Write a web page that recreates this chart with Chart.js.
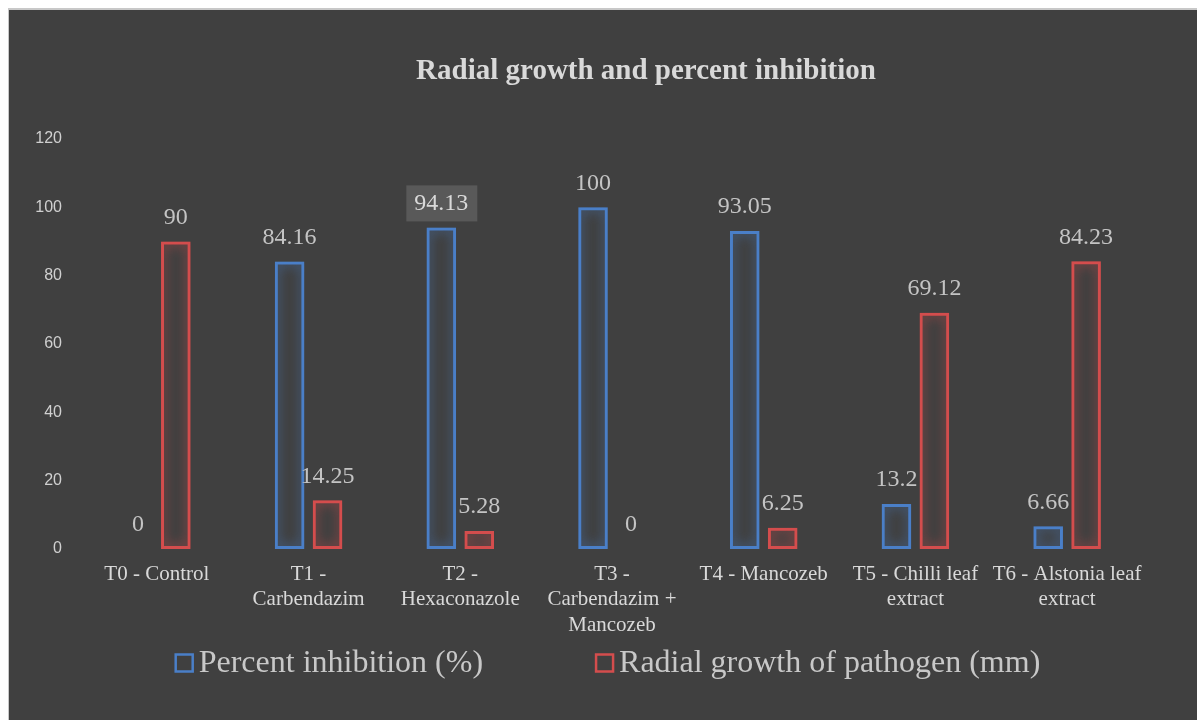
<!DOCTYPE html>
<html>
<head>
<meta charset="utf-8">
<script src="https://cdn.jsdelivr.net/npm/chart.js@4"></script>
<style>
  body { margin: 0; background: #fff; }
  #panel { position: absolute; left: 8px; top: 8px; width: 1189px; height: 712px; background: #404040; border-left: 1px solid #c8c8c8; border-top: 2px solid #c8c8c8; }
  #myChart { position: absolute; left: 0; top: 0; }
</style>
</head>
<body>
<div id="panel"></div>
<canvas id="myChart" width="1197" height="720"></canvas>
<script>
const xValues = [
  "T0 - Control",
  ["T1 -", "Carbendazim"],
  ["T2 -", "Hexaconazole"],
  ["T3 -", "Carbendazim +", "Mancozeb"],
  "T4 - Mancozeb",
  ["T5 - Chilli leaf", "extract"],
  ["T6 - Alstonia leaf", "extract"]
];
const inhibition = [0, 84.16, 94.13, 100, 93.05, 13.2, 6.66];
const growth = [90, 14.25, 5.28, 0, 6.25, 69.12, 84.23];
const yTicks = [0, 20, 40, 60, 80, 100, 120];

const titleText = "Radial growth and percent inhibition";
const barColors = ["#4a7fc8", "#d44d4d"];
const glowColors = ["rgba(74,127,200,0.9)", "rgba(212,77,77,0.9)"];
const textColor = "#d9d9d9";
const serif = "'Liberation Serif', 'Times New Roman', serif";

// glow round the bar outlines
const glow = {
  id: "glow",
  beforeDatasetDraw(chart, args) {
    const ctx = chart.ctx;
    ctx.save();
    ctx.shadowColor = glowColors[args.index];
    ctx.shadowBlur = 12;
  },
  afterDatasetDraw(chart) {
    chart.ctx.restore();
  }
};

// value labels, title and legend
const extras = {
  id: "extras",
  afterDatasetsDraw(chart) {
    const ctx = chart.ctx;
    ctx.save();
    ctx.textAlign = "center";
    ctx.textBaseline = "middle";
    ctx.font = "24px " + serif;
    chart.data.datasets.forEach((ds, i) => {
      chart.getDatasetMeta(i).data.forEach((bar, j) => {
        const txt = String(ds.data[j]);
        const y = bar.y - 24;
        if (i == 0 && j == 2) {
          ctx.fillStyle = "#595959";
          ctx.fillRect(bar.x - 35, y - 18, 71, 36);
          ctx.fillStyle = textColor;
        } else {
          ctx.fillStyle = "#c4c4c4";
        }
        ctx.fillText(txt, bar.x, y);
      });
    });

    ctx.fillStyle = textColor;
    ctx.font = "bold 29px " + serif;
    ctx.fillText(titleText, 646, 72);

    // legend
    const a = chart.chartArea;
    ctx.font = "32px " + serif;
    const box = 17, gap = 6, space = 113;
    const w = chart.data.datasets.map(d => ctx.measureText(d.label).width);
    let x = (a.left + a.right) / 2 - 4 - (box * 2 + gap * 2 + space + w[0] + w[1]) / 2;
    const ly = 663;
    ctx.textAlign = "left";
    chart.data.datasets.forEach((d, i) => {
      ctx.strokeStyle = barColors[i];
      ctx.lineWidth = 2.5;
      ctx.strokeRect(x, ly - box / 2, box, box);
      ctx.fillStyle = "#c8c8c8";
      ctx.fillText(d.label, x + box + gap, ly + 1);
      x += box + gap + w[i] + space;
    });
    ctx.restore();
  }
};

new Chart("myChart", {
  type: "bar",
  data: {
    labels: xValues,
    datasets: [{
      label: "Percent inhibition (%)",
      data: inhibition,
      backgroundColor: "rgba(0,0,0,0)",
      borderColor: barColors[0],
      borderWidth: 3,
      borderSkipped: false
    }, {
      label: "Radial growth of pathogen (mm)",
      data: growth,
      backgroundColor: "rgba(0,0,0,0)",
      borderColor: barColors[1],
      borderWidth: 3,
      borderSkipped: false
    }]
  },
  options: {
    responsive: false,
    animation: false,
    categoryPercentage: 0.5,
    barPercentage: 0.78,
    layout: { padding: { top: 139, left: 21, right: 54, bottom: 71 } },
    plugins: {
      legend: { display: false },
      title: { display: false },
      tooltip: { enabled: false }
    },
    scales: {
      x: {
        grid: { display: false, drawTicks: false },
        border: { display: false },
        ticks: { color: textColor, font: { family: serif, size: 21, lineHeight: 1.2 }, padding: 13, maxRotation: 0, autoSkip: false },
        afterFit(s) { s.height = 100; }
      },
      y: {
        min: 0,
        max: 120,
        afterBuildTicks(s) { s.ticks = yTicks.map(v => ({ value: v })); },
        grid: { display: false, drawTicks: false },
        border: { display: false },
        ticks: { color: "#d0d0d0", font: { family: "'Liberation Sans', sans-serif", size: 16 }, padding: 19 },
        afterFit(s) { s.width = 60; }
      }
    }
  },
  plugins: [glow, extras]
});
</script>
</body>
</html>
